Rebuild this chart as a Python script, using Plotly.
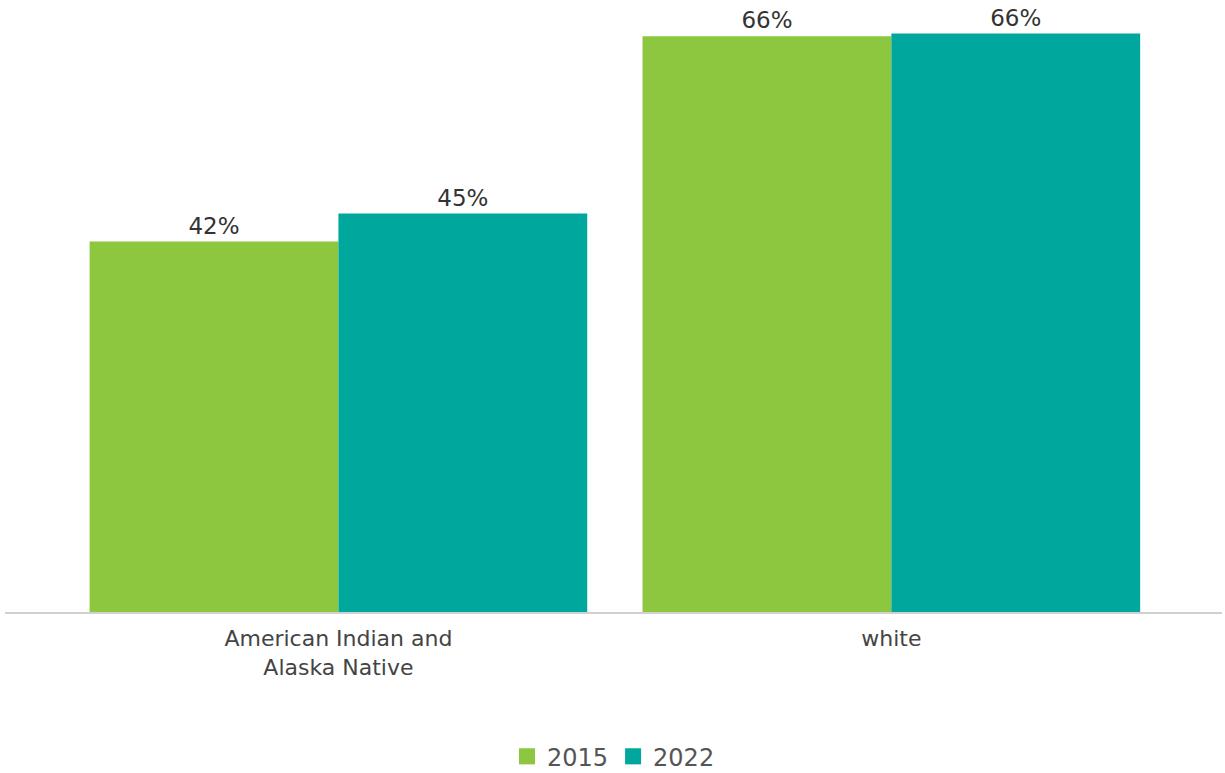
import plotly.graph_objects as go

categories = ["American Indian and<br>Alaska Native", "white"]
series_names = ["2015", "2022"]
values_2015 = [42.2, 65.6]
values_2022 = [45.4, 65.9]
colors = ["#8DC63F", "#00A79D"]

fig = go.Figure()
for name, vals, col in zip(series_names, [values_2015, values_2022], colors):
    fig.add_trace(go.Bar(
        x=categories, y=vals, name=name, legendgroup=name, showlegend=False,
        marker=dict(color=col, line=dict(width=0)),
        texttemplate="%{y:.0f}%", textposition="outside",
        textfont=dict(size=23, color="#333333"),
        cliponaxis=False,
    ))
# legend entries with larger square swatches
for name, col in zip(series_names, colors):
    fig.add_trace(go.Scatter(
        x=[None], y=[None], mode="markers", name=name, legendgroup=name,
        marker=dict(symbol="square", size=16, color=col),
    ))

fig.update_layout(
    width=1225, height=773,
    margin=dict(l=5, r=3, t=2, b=161, autoexpand=False),
    paper_bgcolor="white", plot_bgcolor="white",
    barmode="group", bargap=0.1, bargroupgap=0,
    font=dict(family="DejaVu Sans, sans-serif", color="#444444", size=20),
    showlegend=True,
    legend=dict(orientation="h", x=0.5, xanchor="center",
                yref="container", y=0.021, yanchor="middle",
                font=dict(size=24, color="#555555"), traceorder="normal",
                itemsizing="trace"),
    xaxis=dict(range=[-0.603, 1.598], showline=True, linecolor="#d0d0d0", linewidth=2,
               ticks="", showgrid=False, ticklabelstandoff=6,
               tickfont=dict(size=22, color="#444444")),
    yaxis=dict(range=[0, 69.5], visible=False, showgrid=False, zeroline=False),
)

post = ("document.documentElement.style.margin='0';"
        "document.documentElement.style.overflow='hidden';"
        "document.body.style.margin='0';"
        "document.body.style.overflow='hidden';")
fig.write_html("out.html", post_script=post, config={"displayModeBar": False})
